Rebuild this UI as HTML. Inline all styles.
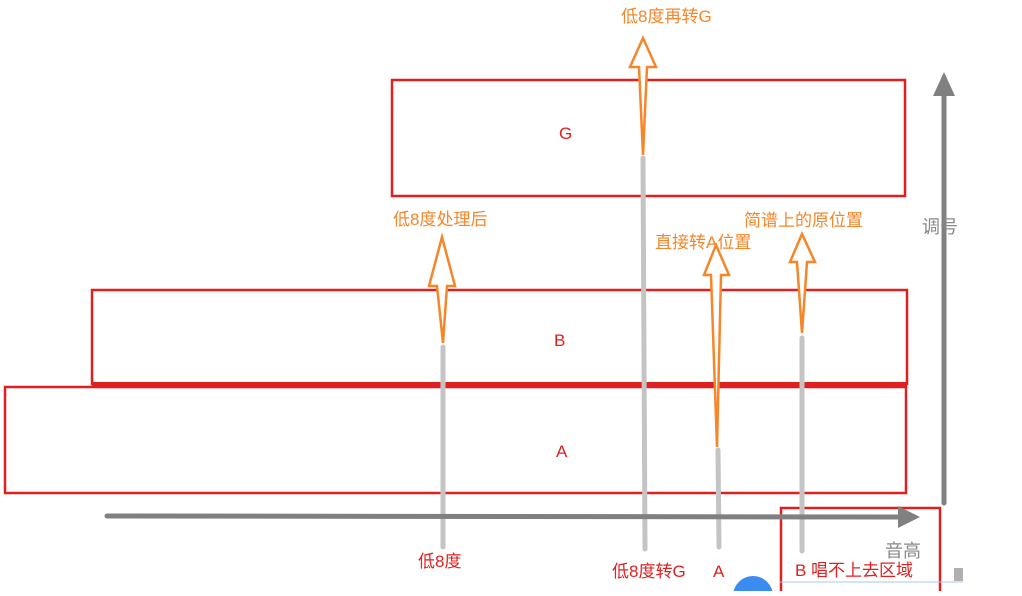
<!DOCTYPE html>
<html><head><meta charset="utf-8"><style>
body{margin:0;background:#fff;}
text{font-family:"Liberation Sans","Noto Sans CJK SC",sans-serif;}
</style></head><body>
<svg width="1022" height="591" xmlns="http://www.w3.org/2000/svg">
<rect x="0" y="0" width="1022" height="591" fill="#fff"/>
<g fill="none" stroke="#e02020" stroke-width="2.5">
<rect x="392" y="80" width="513" height="116"/>
<rect x="92" y="290" width="815" height="94"/>
<rect x="5" y="387" width="901" height="106"/>
<rect x="781" y="508" width="159" height="90"/>
</g>
<line x1="92" y1="384" x2="907" y2="384" stroke="#e02020" stroke-width="4"/>
<g stroke="#c4c4c4" stroke-width="5" stroke-linecap="round">
<line x1="443" y1="347" x2="443" y2="547"/>
<line x1="643" y1="158" x2="645" y2="549"/>
<line x1="718" y1="450" x2="719" y2="547"/>
<line x1="802" y1="338" x2="802" y2="551"/>
</g>
<g fill="#fff" stroke="#f5862a" stroke-width="2.5" stroke-linejoin="miter">
<path d="M643,155 L639,67 L630,67 L643,38 L656,67 L647,67 Z"/>
<path d="M443,343 L437,286 L429,286 L442,237 L455,286 L447,286 Z"/>
<path d="M717,447 L711,275 L704,275 L716,245 L729,275 L721,275 Z"/>
<path d="M802,333 L797,262 L790,262 L802,234 L815,262 L807,262 Z"/>
</g>
<g stroke="#808080" stroke-width="5" stroke-linecap="round">
<line x1="107" y1="516" x2="902" y2="517"/>
<line x1="944" y1="503" x2="944" y2="92"/>
</g>
<path d="M898,506 L920,517 L898,528 Z" fill="#808080"/>
<path d="M933,96 L944,72 L955,96 Z" fill="#808080"/>
<g font-size="17" fill="#f5862a">
<text x="621" y="22">低8度再转G</text>
<text x="393" y="225">低8度处理后</text>
<text x="655" y="248">直接转A位置</text>
<text x="744" y="226">简谱上的原位置</text>
</g>
<g font-size="17" fill="#e02020">
<text x="559" y="139">G</text>
<text x="554" y="346">B</text>
<text x="556" y="457">A</text>
<text x="418" y="567">低8度</text>
<text x="612" y="577">低8度转G</text>
<text x="713" y="577">A</text>
<text x="795" y="576">B 唱不上去区域</text>
</g>
<g font-size="18" fill="#888">
<text x="922" y="233">调号</text>
<text x="885" y="557">音高</text>
</g>
<circle cx="753" cy="596" r="20" fill="#3b8cf0"/>
<line x1="780" y1="582" x2="963" y2="582" stroke="#a8c8f0" stroke-width="1"/>
<rect x="954" y="568" width="9" height="13" fill="#b0b0b0"/>
</svg>
</body></html>
